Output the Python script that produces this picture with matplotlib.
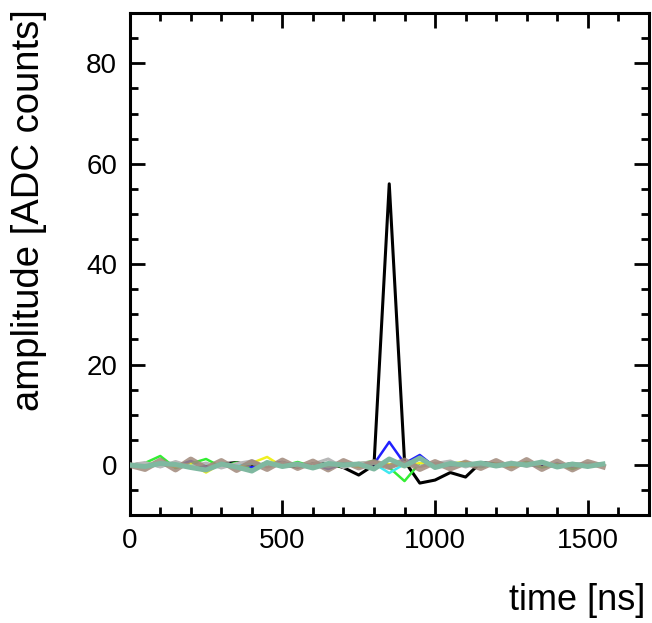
import matplotlib
matplotlib.use("Agg")
import matplotlib.pyplot as plt
from matplotlib.ticker import MultipleLocator

plt.rcParams['font.family'] = ['Liberation Sans', 'DejaVu Sans']

# sample times [ns]
time_ns = [0, 50, 100, 150, 200, 250, 300, 350, 400, 450, 500, 550, 600, 650, 700, 750,
           800, 850, 900, 950, 1000, 1050, 1100, 1150, 1200, 1250, 1300, 1350, 1400, 1450, 1500, 1550]

# waveforms per channel (ADC counts)
ch_black = [0.0, 0.3, -0.2, 0.4, 0.0, -0.3, 0.2, 0.5, -0.2, 0.3, 0.0, -0.4, 0.2, 0.3, -0.5, -2.0,
            0.0, 56.0, 0.8, -3.6, -3.0, -1.5, -2.4, 0.5, 0.2, -0.3, 0.4, 0.0, -0.2, 0.3, 0.0, 0.2]
ch_blue = [0.0, -0.3, 0.4, -0.2, 0.8, -0.4, 0.3, 0.1, -0.5, 0.2, 0.6, -0.3, 0.2, -0.8, 0.3, -0.2,
           0.2, 4.6, 0.3, 2.0, -0.4, 0.3, -0.2, 0.4, -0.3, 0.2, 0.1, -0.4, 0.3, -0.6, 0.2, 0.0]
ch_green = [0.0, 0.4, 1.8, -0.6, 0.3, 1.2, -0.4, 0.5, -1.0, 0.3, -0.2, 0.6, -0.3, 0.2, -0.4, 0.3,
            0.8, -0.5, -3.2, 0.4, -0.3, 0.2, 0.5, -0.4, 0.3, -0.2, 0.6, -0.5, 0.2, -0.8, 0.3, 0.0]
ch_yellow = [0.0, -0.2, 0.3, -0.4, 0.2, -1.5, 0.3, -0.2, 0.4, 1.6, -0.3, 0.2, -0.5, 0.3, 0.2, -0.4,
             0.3, 0.2, -0.3, 0.4, -0.2, 0.3, 0.6, -0.2, 0.3, -0.4, 0.2, 0.3, -0.3, 0.2, -0.2, 0.0]
ch_cyan = [0.0, 0.2, -0.3, 0.4, -0.2, 0.3, -0.5, 0.2, 0.3, -0.2, 0.4, -0.3, 0.2, -0.4, 0.3, 0.1,
           0.3, -1.6, 0.2, -0.3, 0.4, -0.2, 0.3, -0.3, 0.2, 0.4, -0.2, 0.3, -0.4, 0.2, 0.3, 0.0]
ch_gray = [0.0, 0.5, -0.4, 0.7, -0.3, 0.4, -0.6, 0.3, 0.8, -0.4, 0.5, -0.3, 0.2, 1.2, -0.5, 0.4,
           0.6, -0.4, 0.5, -0.3, 0.3, 0.8, -0.4, 0.5, -0.2, 0.6, -0.3, 0.4, -0.5, 0.3, 0.2, 0.0]
ch_brown = [0.0, -0.8, 0.9, -0.9, 1.1, -0.7, 0.8, -1.0, 0.6, -0.8, 0.9, -0.6, 0.7, -0.9, 0.8, -0.5,
            0.6, -0.4, 0.9, -0.8, 0.6, -0.7, 0.5, -0.6, 0.8, -0.7, 1.0, -0.8, 0.7, -0.9, 0.6, -0.3]
ch_teal = [0.0, -0.3, 0.3, 0.1, -0.5, -1.0, 0.2, -0.4, -1.2, 0.5, -0.3, 0.2, -0.6, 0.3, 0.0, 0.2,
           -0.8, 1.2, -0.2, 1.4, -0.5, 0.3, 0.0, 0.4, -0.2, 0.3, 0.0, 0.6, -0.4, 0.2, -0.3, 0.2]

fig = plt.figure(figsize=(6.52, 6.23), dpi=100)
ax = fig.add_axes([0.199, 0.173, 0.796, 0.806])

ax.plot(time_ns, ch_black, color='black', lw=2.2, zorder=2)
ax.plot(time_ns, ch_blue, color='#2020ff', lw=1.8, zorder=3)
ax.plot(time_ns, ch_green, color='#33ee33', lw=1.8, zorder=3)
ax.plot(time_ns, ch_yellow, color='#f0f020', lw=1.8, zorder=3)
ax.plot(time_ns, ch_cyan, color='#40e8f0', lw=1.8, zorder=3)
ax.plot(time_ns, ch_gray, color='#b8b8b8', lw=2.2, zorder=3)
ax.plot(time_ns, ch_brown, color='#a0887a', lw=4.2, alpha=0.85, zorder=4)
ax.plot(time_ns, ch_teal, color='#7fb8a0', lw=3.6, zorder=5)

ax.set_xlim(0, 1700)
ax.set_ylim(-10, 90)
ax.xaxis.set_major_locator(MultipleLocator(500))
ax.xaxis.set_minor_locator(MultipleLocator(100))
ax.yaxis.set_major_locator(MultipleLocator(20))
ax.yaxis.set_minor_locator(MultipleLocator(5))

ax.tick_params(which='both', direction='in', top=True, right=True, width=2.0, labelsize=20)
ax.tick_params(which='major', length=11)
ax.tick_params(which='minor', length=5.5)
ax.tick_params(axis='y', pad=9)
ax.tick_params(axis='x', pad=9)
for sp in ax.spines.values():
    sp.set_linewidth(2.2)

ax.set_xlabel('time [ns]', fontsize=26, loc='right')
ax.xaxis.set_label_coords(0.994, -0.135)
ax.set_ylabel('amplitude [ADC counts]', fontsize=27.5, loc='top')
ax.yaxis.set_label_coords(-0.16, 1.008)

fig.savefig('out.png', dpi=100)
